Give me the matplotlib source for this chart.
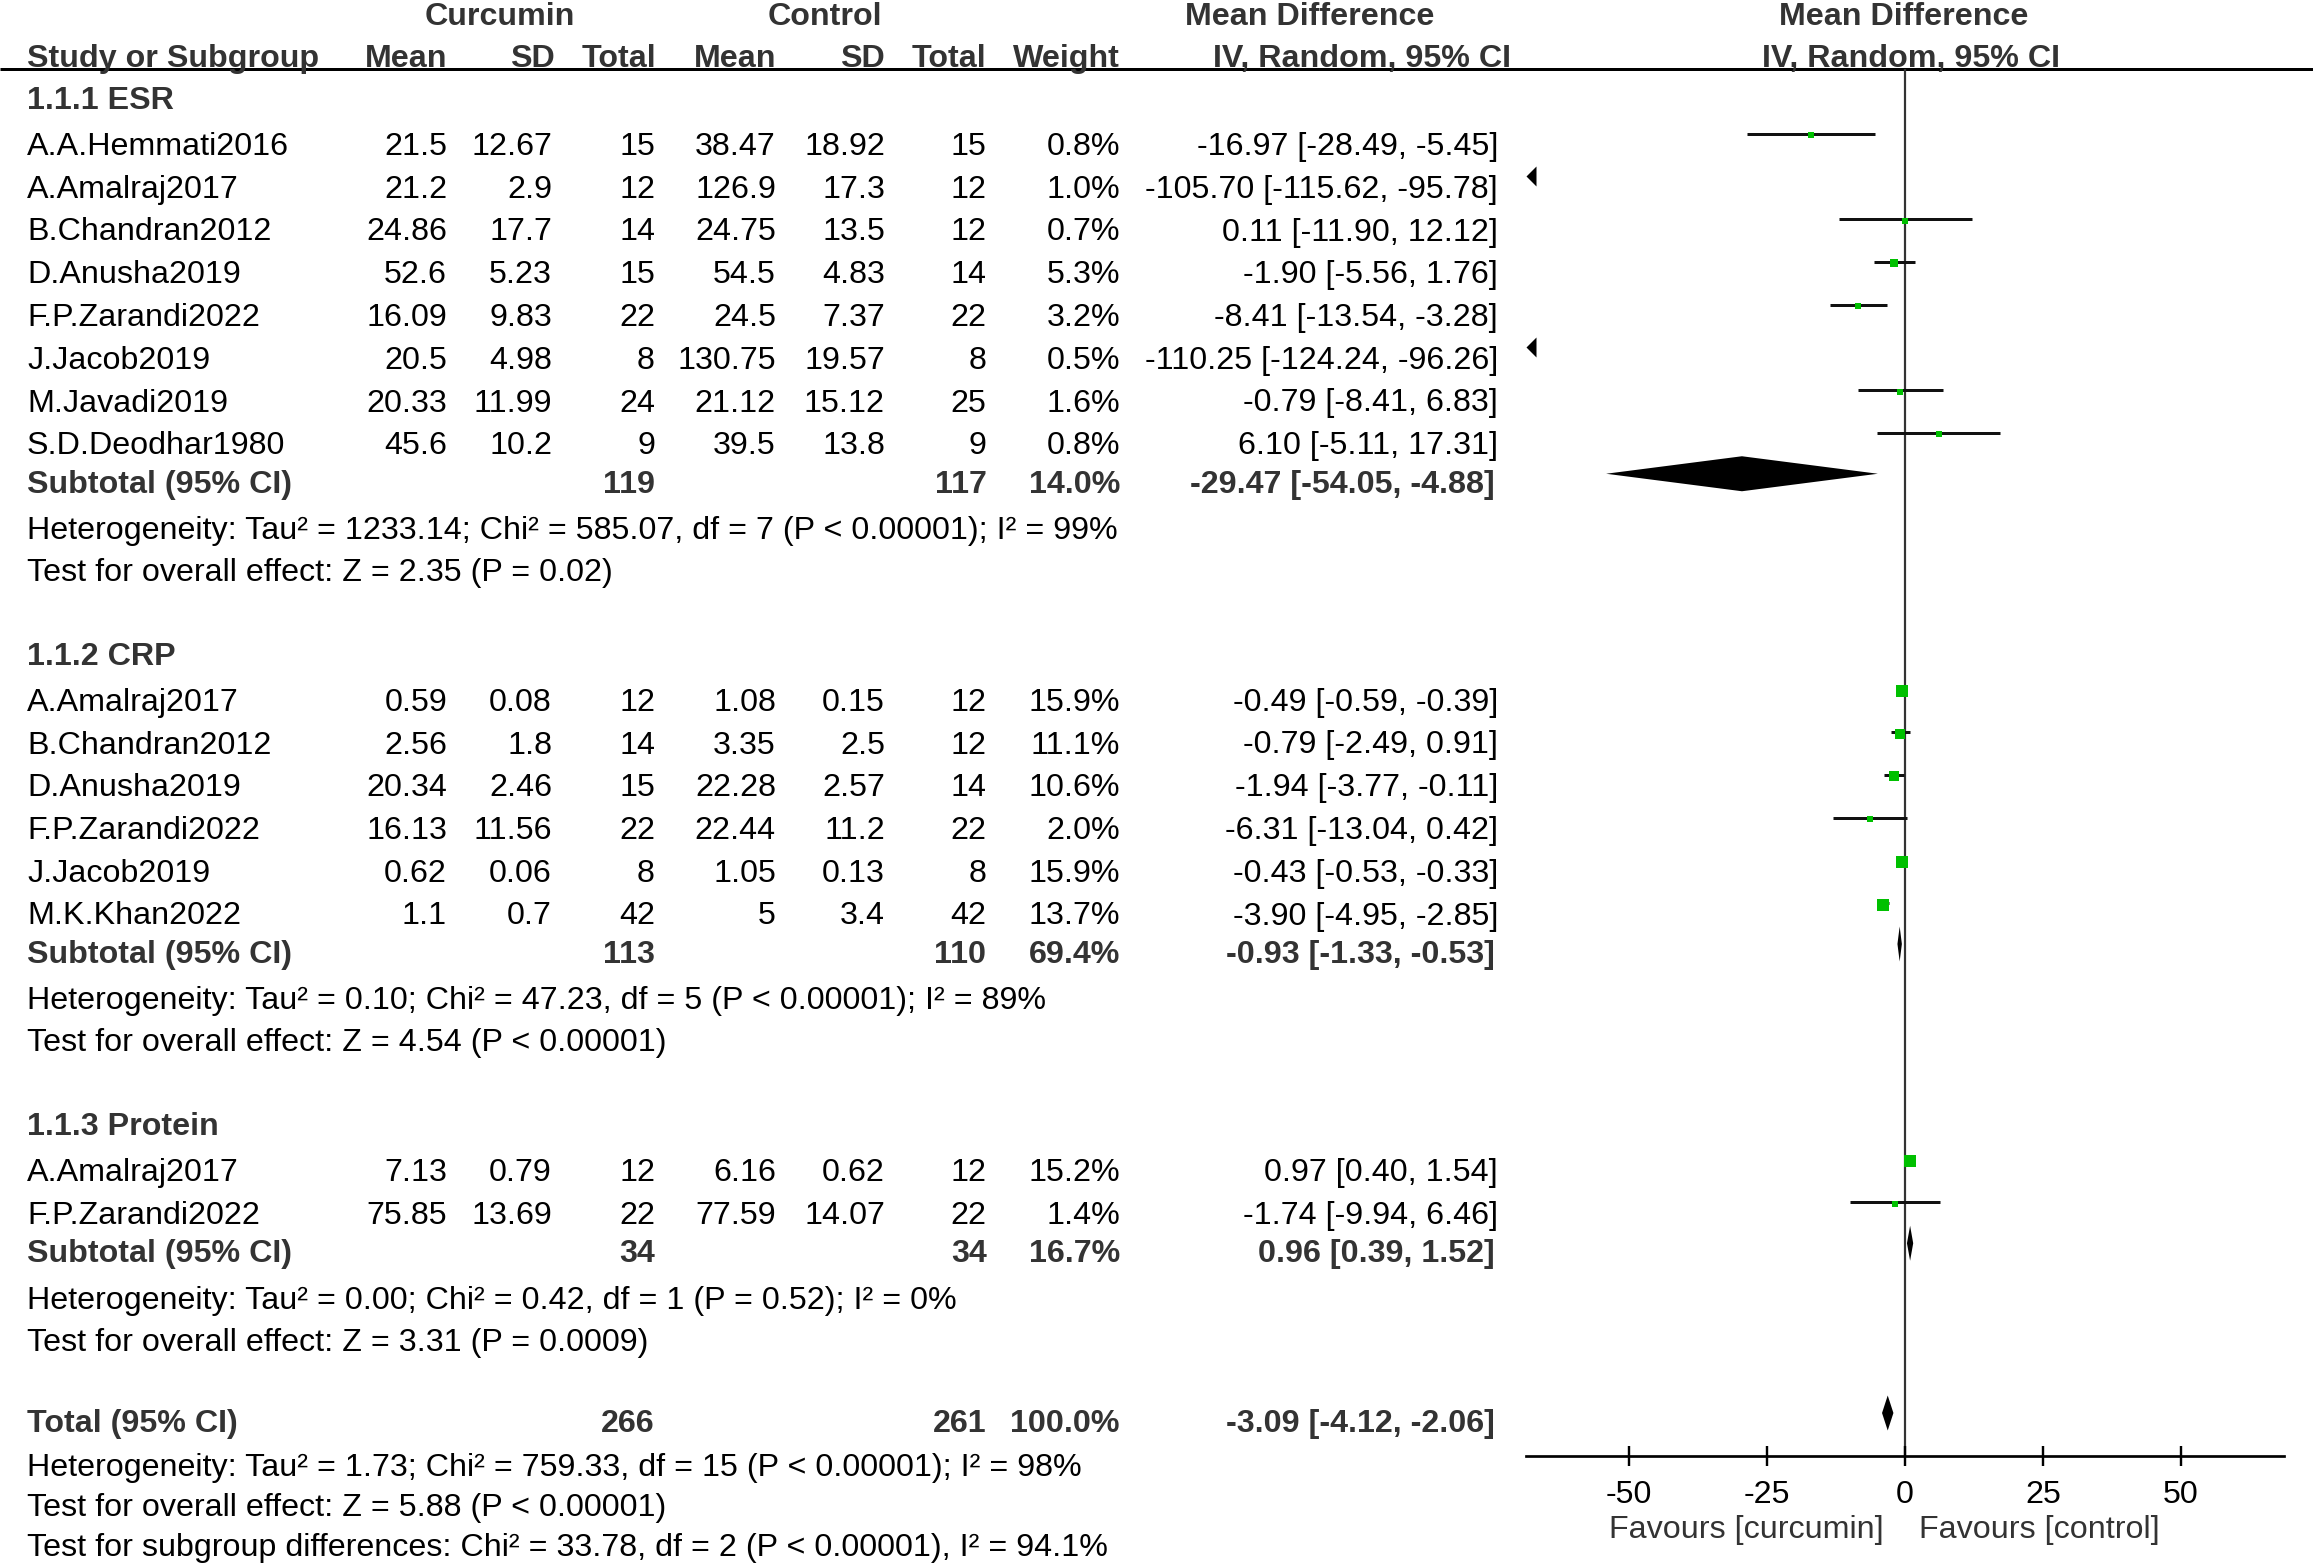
import matplotlib
matplotlib.use('Agg')
import matplotlib.pyplot as plt

# ---------------- data ----------------
groups = ["1.1.1 ESR", "1.1.2 CRP", "1.1.3 Protein"]

esr_names = ["A.A.Hemmati2016", "A.Amalraj2017", "B.Chandran2012", "D.Anusha2019",
             "F.P.Zarandi2022", "J.Jacob2019", "M.Javadi2019", "S.D.Deodhar1980"]
esr_cur_mean = [21.5, 21.2, 24.86, 52.6, 16.09, 20.5, 20.33, 45.6]
esr_cur_sd = [12.67, 2.9, 17.7, 5.23, 9.83, 4.98, 11.99, 10.2]
esr_cur_n = [15, 12, 14, 15, 22, 8, 24, 9]
esr_ctl_mean = [38.47, 126.9, 24.75, 54.5, 24.5, 130.75, 21.12, 39.5]
esr_ctl_sd = [18.92, 17.3, 13.5, 4.83, 7.37, 19.57, 15.12, 13.8]
esr_ctl_n = [15, 12, 12, 14, 22, 8, 25, 9]
esr_weight = [0.8, 1.0, 0.7, 5.3, 3.2, 0.5, 1.6, 0.8]
esr_md = [-16.97, -105.70, 0.11, -1.90, -8.41, -110.25, -0.79, 6.10]
esr_lo = [-28.49, -115.62, -11.90, -5.56, -13.54, -124.24, -8.41, -5.11]
esr_hi = [-5.45, -95.78, 12.12, 1.76, -3.28, -96.26, 6.83, 17.31]

crp_names = ["A.Amalraj2017", "B.Chandran2012", "D.Anusha2019", "F.P.Zarandi2022",
             "J.Jacob2019", "M.K.Khan2022"]
crp_cur_mean = [0.59, 2.56, 20.34, 16.13, 0.62, 1.1]
crp_cur_sd = [0.08, 1.8, 2.46, 11.56, 0.06, 0.7]
crp_cur_n = [12, 14, 15, 22, 8, 42]
crp_ctl_mean = [1.08, 3.35, 22.28, 22.44, 1.05, 5]
crp_ctl_sd = [0.15, 2.5, 2.57, 11.2, 0.13, 3.4]
crp_ctl_n = [12, 12, 14, 22, 8, 42]
crp_weight = [15.9, 11.1, 10.6, 2.0, 15.9, 13.7]
crp_md = [-0.49, -0.79, -1.94, -6.31, -0.43, -3.90]
crp_lo = [-0.59, -2.49, -3.77, -13.04, -0.53, -4.95]
crp_hi = [-0.39, 0.91, -0.11, 0.42, -0.33, -2.85]

pro_names = ["A.Amalraj2017", "F.P.Zarandi2022"]
pro_cur_mean = [7.13, 75.85]
pro_cur_sd = [0.79, 13.69]
pro_cur_n = [12, 22]
pro_ctl_mean = [6.16, 77.59]
pro_ctl_sd = [0.62, 14.07]
pro_ctl_n = [12, 22]
pro_weight = [15.2, 1.4]
pro_md = [0.97, -1.74]
pro_lo = [0.40, -9.94]
pro_hi = [1.54, 6.46]

sub_cur_n = [119, 113, 34]
sub_ctl_n = [117, 110, 34]
sub_weight = [14.0, 69.4, 16.7]
sub_md = [-29.47, -0.93, 0.96]
sub_lo = [-54.05, -1.33, 0.39]
sub_hi = [-4.88, -0.53, 1.52]
sub_het = ["Heterogeneity: Tau\u00b2 = 1233.14; Chi\u00b2 = 585.07, df = 7 (P < 0.00001); I\u00b2 = 99%",
           "Heterogeneity: Tau\u00b2 = 0.10; Chi\u00b2 = 47.23, df = 5 (P < 0.00001); I\u00b2 = 89%",
           "Heterogeneity: Tau\u00b2 = 0.00; Chi\u00b2 = 0.42, df = 1 (P = 0.52); I\u00b2 = 0%"]
sub_test = ["Test for overall effect: Z = 2.35 (P = 0.02)",
            "Test for overall effect: Z = 4.54 (P < 0.00001)",
            "Test for overall effect: Z = 3.31 (P = 0.0009)"]

tot_cur_n, tot_ctl_n, tot_weight = 266, 261, 100.0
tot_md, tot_lo, tot_hi = -3.09, -4.12, -2.06
tot_lines = ["Heterogeneity: Tau\u00b2 = 1.73; Chi\u00b2 = 759.33, df = 15 (P < 0.00001); I\u00b2 = 98%",
             "Test for overall effect: Z = 5.88 (P < 0.00001)",
             "Test for subgroup differences: Chi\u00b2 = 33.78, df = 2 (P < 0.00001), I\u00b2 = 94.1%"]

xticks = [-50, -25, 0, 25, 50]
fav_left = "Favours [curcumin]"
fav_right = "Favours [control]"

studies = [
    (esr_names, esr_cur_mean, esr_cur_sd, esr_cur_n, esr_ctl_mean, esr_ctl_sd, esr_ctl_n,
     esr_weight, esr_md, esr_lo, esr_hi),
    (crp_names, crp_cur_mean, crp_cur_sd, crp_cur_n, crp_ctl_mean, crp_ctl_sd, crp_ctl_n,
     crp_weight, crp_md, crp_lo, crp_hi),
    (pro_names, pro_cur_mean, pro_cur_sd, pro_cur_n, pro_ctl_mean, pro_ctl_sd, pro_ctl_n,
     pro_weight, pro_md, pro_lo, pro_hi),
]

# ---------------- layout ----------------
W, H, DPI = 2313, 1563, 100
PX = 72.0 / DPI
FS = 23.2
FONT = "Liberation Sans"
C_REG = "#000000"
C_BOLD = "#333333"
GREEN = "#00c000"

plt.rcParams['font.family'] = [FONT, 'DejaVu Sans']

fig = plt.figure(figsize=(W / DPI, H / DPI), dpi=DPI)
fig.patch.set_facecolor("white")
tax = fig.add_axes([0, 0, 1, 1])
tax.set_xlim(0, W)
tax.set_ylim(H, 0)
tax.axis('off')

AX_L, AX_R = 1526.0, 2283.6
XMIN, XMAX = -68.55, 68.55
fax = fig.add_axes([AX_L / W, 0, (AX_R - AX_L) / W, 1])
fax.set_xlim(XMIN, XMAX)
fax.set_ylim(H, 0)
fax.patch.set_visible(False)
for s in ['top', 'right', 'left']:
    fax.spines[s].set_visible(False)
AXIS_Y = 1455.7
HEAD_Y = 69.3
fax.spines['bottom'].set_position(('data', AXIS_Y))
fax.spines['bottom'].set_linewidth(2.7 * PX)
fax.spines['bottom'].set_color("#000000")
fax.set_yticks([])
fax.set_xticks(xticks)
fax.set_xticklabels([str(t) for t in xticks])
fax.tick_params(axis='x', direction='inout', length=20 * PX, width=2.4 * PX,
                pad=10.0, labelsize=FS, colors="#000000")

# column x positions (right edges)
X_NAME = 27
X_CM, X_CSD, X_CN = 447, 552, 655
X_KM, X_KSD, X_KN = 776, 885, 986.5
X_W = 1120
X_CI = 1498
X_CI_HEAD = 1511


def txt(x, y, s, bold=False, ha='left', color=None):
    tax.text(x, y, s, fontsize=FS, fontweight='bold' if bold else 'normal',
             ha=ha, va='baseline', color=color or (C_BOLD if bold else C_REG),
             family=[FONT, 'DejaVu Sans'])


def fmt(v):
    return f"{v:g}"


def ci_str(m, lo, hi):
    return f"{m:.2f} [{lo:.2f}, {hi:.2f}]"


# headers
txt(500, 25, "Curcumin", bold=True, ha='center')
txt(824.5, 25, "Control", bold=True, ha='center')
txt(1310, 25, "Mean Difference", bold=True, ha='center')
txt(1904, 25, "Mean Difference", bold=True, ha='center')
HY2 = 66.7
txt(X_NAME, HY2, "Study or Subgroup", bold=True)
txt(X_CM, HY2, "Mean", bold=True, ha='right')
txt(X_CSD + 3, HY2, "SD", bold=True, ha='right')
txt(X_CN + 1, HY2, "Total", bold=True, ha='right')
txt(X_KM, HY2, "Mean", bold=True, ha='right')
txt(X_KSD, HY2, "SD", bold=True, ha='right')
txt(X_KN, HY2, "Total", bold=True, ha='right')
txt(X_W, HY2, "Weight", bold=True, ha='right')
txt(X_CI_HEAD, HY2, "IV, Random, 95% CI", bold=True, ha='right')
txt(1911, HY2, "IV, Random, 95% CI", bold=True, ha='center')
tax.hlines(HEAD_Y, 0, W, color="#000000", lw=3 * PX)

# zero line
fax.vlines(0, HEAD_Y, AXIS_Y, color="#333333", lw=2.2 * PX, zorder=1)

STEP = 42.75
MK_OFF = 21.5
DM_OFF = 19
DM_H = 17.5


def diamond(yb, m, lo, hi):
    yc = yb - DM_OFF
    fax.fill([lo, m, hi, m], [yc, yc - DM_H, yc, yc + DM_H], color="#000000",
             lw=0, zorder=4)


y = 109.0
for g, grp in enumerate(groups):
    (names, cm, csd, cn, km, ksd, kn, wts, md, lo, hi) = studies[g]
    txt(X_NAME, y, grp, bold=True)
    y += 46
    for i in range(len(names)):
        txt(X_NAME, y, names[i])
        txt(X_CM, y, fmt(cm[i]), ha='right')
        txt(X_CSD, y, fmt(csd[i]), ha='right')
        txt(X_CN, y, str(cn[i]), ha='right')
        txt(X_KM, y, fmt(km[i]), ha='right')
        txt(X_KSD, y, fmt(ksd[i]), ha='right')
        txt(X_KN, y, str(kn[i]), ha='right')
        txt(X_W, y, f"{wts[i]:.1f}%", ha='right')
        txt(X_CI, y, ci_str(md[i], lo[i], hi[i]), ha='right')
        ym = y - MK_OFF
        if hi[i] < XMIN:
            fax.plot([XMIN], [ym], marker=[(0, 0), (1, -1), (1, 1)],
                     ms=20 * PX, color="#000000", mew=0, clip_on=False, zorder=4)
        else:
            fax.hlines(ym, max(lo[i], XMIN), min(hi[i], XMAX), color="#111111",
                       lw=3 * PX, zorder=2)
            side = 4.8 + 0.46 * wts[i]
            fax.plot([md[i]], [ym + 1.5], marker='s', ms=side * PX, color=GREEN,
                     mew=0, zorder=3)
        y += STEP
    y = y - STEP + 38.5
    txt(X_NAME, y, "Subtotal (95% CI)", bold=True)
    txt(X_CN, y, str(sub_cur_n[g]), bold=True, ha='right')
    txt(X_KN, y, str(sub_ctl_n[g]), bold=True, ha='right')
    txt(X_W, y, f"{sub_weight[g]:.1f}%", bold=True, ha='right')
    txt(X_CI - 3, y, ci_str(sub_md[g], sub_lo[g], sub_hi[g]), bold=True, ha='right')
    diamond(y, sub_md[g], sub_lo[g], sub_hi[g])
    y += 46.5
    txt(X_NAME, y, sub_het[g])
    y += 42
    txt(X_NAME, y, sub_test[g])
    y += 83.5

# total
y = 1432.0
txt(X_NAME, y, "Total (95% CI)", bold=True)
txt(X_CN, y, str(tot_cur_n), bold=True, ha='right')
txt(X_KN, y, str(tot_ctl_n), bold=True, ha='right')
txt(X_W, y, f"{tot_weight:.1f}%", bold=True, ha='right')
txt(X_CI - 3, y, ci_str(tot_md, tot_lo, tot_hi), bold=True, ha='right')
diamond(y, tot_md, tot_lo, tot_hi)
for k, line in enumerate(tot_lines):
    txt(X_NAME, 1476 + k * 40.0, line)

# favours labels
txt(1884, 1538, fav_left, ha='right', color="#333333")
txt(1919, 1538, fav_right, ha='left', color="#333333")

fig.savefig("out.png", dpi=DPI, facecolor="white")
